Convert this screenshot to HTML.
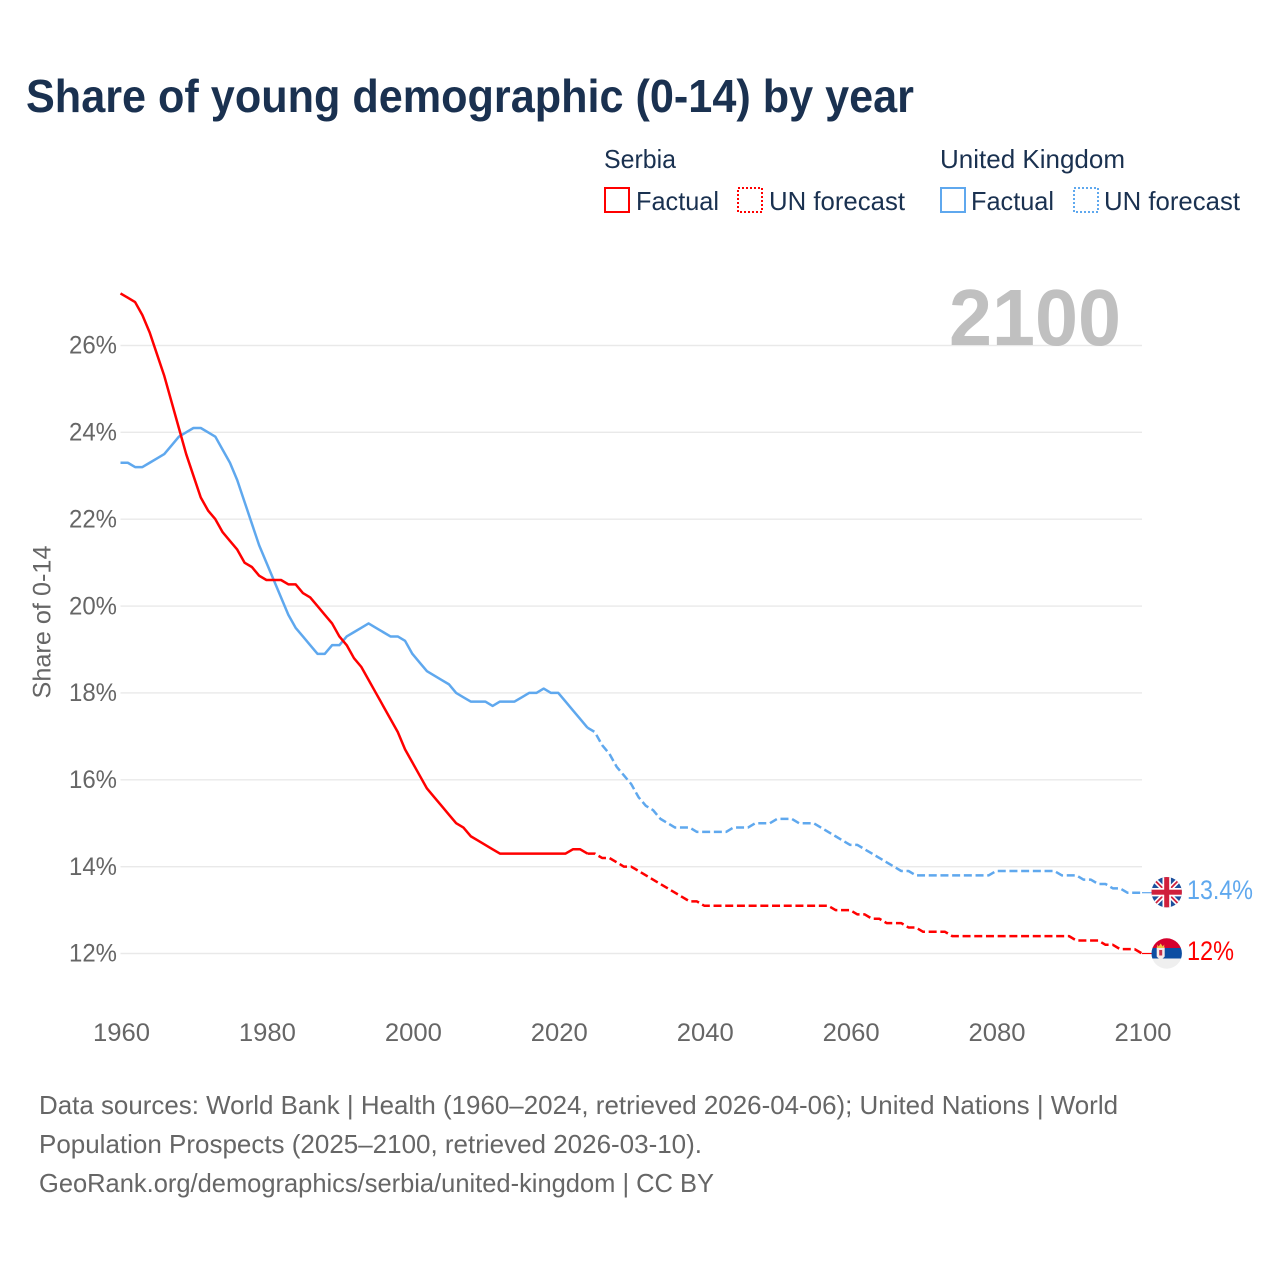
<!DOCTYPE html>
<html lang="en">
<head>
<meta charset="utf-8">
<title>Share of young demographic (0-14) by year</title>
<style>
  html, body { margin: 0; padding: 0; background: #fff; }
  svg { display: block; font-family: "Liberation Sans", "DejaVu Sans", sans-serif; }
</style>
</head>
<body>
<svg id="chart" xmlns="http://www.w3.org/2000/svg" width="1280" height="1280" viewBox="0 0 1280 1280">
  <rect x="0" y="0" width="1280" height="1280" fill="#ffffff"/>

  <text x="26" y="112" font-size="46" font-weight="700" fill="#1a3150" textLength="888" lengthAdjust="spacingAndGlyphs">Share of young demographic (0-14) by year</text>

  <g font-size="26" fill="#1a3150">
    <text x="604" y="168" textLength="72" lengthAdjust="spacingAndGlyphs">Serbia</text>
    <text x="940" y="168" textLength="185" lengthAdjust="spacingAndGlyphs">United Kingdom</text>
    <g>
      <rect x="605" y="188" width="24" height="24" fill="none" stroke="#ff0000" stroke-width="2"/>
      <text x="636" y="210" textLength="83" lengthAdjust="spacingAndGlyphs">Factual</text>
    </g>
    <g>
      <rect x="738" y="188" width="24" height="24" fill="none" stroke="#ff0000" stroke-width="2" stroke-dasharray="2 2"/>
      <text x="769" y="210" textLength="136" lengthAdjust="spacingAndGlyphs">UN forecast</text>
    </g>
    <g>
      <rect x="941" y="188" width="24" height="24" fill="none" stroke="#5fa8ee" stroke-width="2"/>
      <text x="971" y="210" textLength="83" lengthAdjust="spacingAndGlyphs">Factual</text>
    </g>
    <g>
      <rect x="1074" y="188" width="24" height="24" fill="none" stroke="#5fa8ee" stroke-width="2" stroke-dasharray="2 2"/>
      <text x="1104" y="210" textLength="136" lengthAdjust="spacingAndGlyphs">UN forecast</text>
    </g>
  </g>

  <g id="grid"></g>

  <text x="949" y="345" font-size="80" font-weight="700" fill="#c0c0c0" textLength="172" lengthAdjust="spacingAndGlyphs">2100</text>

  <text transform="translate(50.5 622) rotate(-90)" text-anchor="middle" font-size="25" fill="#666666" textLength="153" lengthAdjust="spacingAndGlyphs">Share of 0-14</text>

  <g id="yticks"></g>
  <g id="xticks"></g>
  <g id="series"></g>

  <defs>
    <clipPath id="flag-clip"><circle cx="0" cy="0" r="15.2"/></clipPath>
  </defs>

  <g id="flag-uk">
    <g clip-path="url(#flag-clip)">
      <rect x="-16" y="-16" width="32" height="32" fill="#1c4f9c"/>
      <path d="M-15 -15L15 15M15 -15L-15 15" stroke="#ffffff" stroke-width="5"/>
      <path d="M-15 -15L15 15M15 -15L-15 15" stroke="#d0203c" stroke-width="1.8"/>
      <rect x="-16" y="-4.2" width="32" height="8.4" fill="#ffffff"/>
      <rect x="-4.2" y="-16" width="8.4" height="32" fill="#ffffff"/>
      <rect x="-16" y="-2.5" width="32" height="5" fill="#d0203c"/>
      <rect x="-2.5" y="-16" width="5" height="32" fill="#d0203c"/>
    </g>
  </g>

  <g id="flag-serbia">
    <g clip-path="url(#flag-clip)">
      <rect x="-16" y="-16" width="32" height="32" fill="#efefef"/>
      <rect x="-16" y="-16" width="32" height="10.5" fill="#d6012e"/>
      <rect x="-16" y="-5.5" width="32" height="10.5" fill="#0c4da2"/>
      <path d="M-10 -6L-2 -6L-2 3Q-6 8 -10 3Z" fill="#f6eaea"/>
      <path d="M-9.5 -9L-8 -7L-6 -10L-4 -7L-2.5 -9L-2.5 -5.5L-9.5 -5.5Z" fill="#f3c644"/>
      <rect x="-7.5" y="-3.5" width="3" height="5.5" fill="#c9304a"/>
    </g>
  </g>

  <g id="end-labels"></g>

  <g font-size="26" fill="#666666">
    <text x="39" y="1114" textLength="1079" lengthAdjust="spacingAndGlyphs">Data sources: World Bank | Health (1960–2024, retrieved 2026-04-06); United Nations | World</text>
    <text x="39" y="1153" textLength="663" lengthAdjust="spacingAndGlyphs">Population Prospects (2025–2100, retrieved 2026-03-10).</text>
    <text x="39" y="1192" textLength="675" lengthAdjust="spacingAndGlyphs">GeoRank.org/demographics/serbia/united-kingdom | CC BY</text>
  </g>
</svg>

<script>
const factualStartYear = 1960;
const forecastStartYear = 2024;
const xTickYears = [1960, 1980, 2000, 2020, 2040, 2060, 2080, 2100];
const yTickValues = [12, 14, 16, 18, 20, 22, 24, 26];

const serbiaFactual = [
  27.2, 27.1, 27.0, 26.7, 26.3, 25.8, 25.3, 24.7, 24.1, 23.5,
  23.0, 22.5, 22.2, 22.0, 21.7, 21.5, 21.3, 21.0, 20.9, 20.7,
  20.6, 20.6, 20.6, 20.5, 20.5, 20.3, 20.2, 20.0, 19.8, 19.6,
  19.3, 19.1, 18.8, 18.6, 18.3, 18.0, 17.7, 17.4, 17.1, 16.7,
  16.4, 16.1, 15.8, 15.6, 15.4, 15.2, 15.0, 14.9, 14.7, 14.6,
  14.5, 14.4, 14.3, 14.3, 14.3, 14.3, 14.3, 14.3, 14.3, 14.3,
  14.3, 14.3, 14.4, 14.4, 14.3
];
const serbiaForecast = [
  14.3, 14.3, 14.2, 14.2, 14.1, 14.0,
  14.0, 13.9, 13.8, 13.7, 13.6, 13.5, 13.4, 13.3, 13.2, 13.2,
  13.1, 13.1, 13.1, 13.1, 13.1, 13.1, 13.1, 13.1, 13.1, 13.1,
  13.1, 13.1, 13.1, 13.1, 13.1, 13.1, 13.1, 13.1, 13.0, 13.0,
  13.0, 12.9, 12.9, 12.8, 12.8, 12.7, 12.7, 12.7, 12.6, 12.6,
  12.5, 12.5, 12.5, 12.5, 12.4, 12.4, 12.4, 12.4, 12.4, 12.4,
  12.4, 12.4, 12.4, 12.4, 12.4, 12.4, 12.4, 12.4, 12.4, 12.4,
  12.4, 12.3, 12.3, 12.3, 12.3, 12.2, 12.2, 12.1, 12.1, 12.1,
  12.0
];
const ukFactual = [
  23.3, 23.3, 23.2, 23.2, 23.3, 23.4, 23.5, 23.7, 23.9, 24.0,
  24.1, 24.1, 24.0, 23.9, 23.6, 23.3, 22.9, 22.4, 21.9, 21.4,
  21.0, 20.6, 20.2, 19.8, 19.5, 19.3, 19.1, 18.9, 18.9, 19.1,
  19.1, 19.3, 19.4, 19.5, 19.6, 19.5, 19.4, 19.3, 19.3, 19.2,
  18.9, 18.7, 18.5, 18.4, 18.3, 18.2, 18.0, 17.9, 17.8, 17.8,
  17.8, 17.7, 17.8, 17.8, 17.8, 17.9, 18.0, 18.0, 18.1, 18.0,
  18.0, 17.8, 17.6, 17.4, 17.2
];
const ukForecast = [
  17.2, 17.1, 16.8, 16.6, 16.3, 16.1,
  15.9, 15.6, 15.4, 15.3, 15.1, 15.0, 14.9, 14.9, 14.9, 14.8,
  14.8, 14.8, 14.8, 14.8, 14.9, 14.9, 14.9, 15.0, 15.0, 15.0,
  15.1, 15.1, 15.1, 15.0, 15.0, 15.0, 14.9, 14.8, 14.7, 14.6,
  14.5, 14.5, 14.4, 14.3, 14.2, 14.1, 14.0, 13.9, 13.9, 13.8,
  13.8, 13.8, 13.8, 13.8, 13.8, 13.8, 13.8, 13.8, 13.8, 13.8,
  13.9, 13.9, 13.9, 13.9, 13.9, 13.9, 13.9, 13.9, 13.9, 13.8,
  13.8, 13.8, 13.7, 13.7, 13.6, 13.6, 13.5, 13.5, 13.4, 13.4,
  13.4
];

const SVG_NS = 'http://www.w3.org/2000/svg';
const RED = '#ff0000';
const BLUE = '#5fa8ee';
const plotLeft = 120.5;
const plotRight = 1142;

function xScale(year) {
  return plotLeft + (year - 1960) * (plotRight - plotLeft) / 140;
}
function yScale(value) {
  return 953.5 - (value - 12) * (953.5 - 345.5) / 14;
}
function linePath(values, startYear) {
  return values.map(function (v, i) {
    return (i ? 'L' : 'M') + xScale(startYear + i).toFixed(2) + ' ' + yScale(v).toFixed(2);
  }).join('');
}
function make(tag, attrs, parent) {
  const el = document.createElementNS(SVG_NS, tag);
  Object.keys(attrs).forEach(function (k) { el.setAttribute(k, attrs[k]); });
  parent.appendChild(el);
  return el;
}

const gridGroup = document.getElementById('grid');
const yTickGroup = document.getElementById('yticks');
yTickValues.forEach(function (v) {
  const line = make('line', { x1: plotLeft, x2: plotRight, y1: yScale(v), y2: yScale(v), stroke: '#e9e9e9', 'stroke-width': 1.4 }, gridGroup);
  
  
  const label = make('text', { x: 117, y: yScale(v) + 8.2, 'text-anchor': 'end', 'font-size': 25, fill: '#666666', textLength: 48, lengthAdjust: 'spacingAndGlyphs' }, yTickGroup);
  
  
  label.textContent = v + '%';
});

const xTickGroup = document.getElementById('xticks');
xTickYears.forEach(function (year) {
  const label = make('text', { x: xScale(year) + 1, y: 1041, 'text-anchor': 'middle', 'font-size': 25, fill: '#666666', textLength: 57, lengthAdjust: 'spacingAndGlyphs' }, xTickGroup);
  
  
  label.textContent = year;
});

const seriesGroup = document.getElementById('series');
function drawSeries(key, color, factual, forecast) {
  const solid = make('path', { d: linePath(factual, factualStartYear), fill: 'none', stroke: color, 'stroke-width': 2.5, 'stroke-linejoin': 'round' }, seriesGroup);
  
  
  const dashed = make('path', { d: linePath(forecast, forecastStartYear), fill: 'none', stroke: color, 'stroke-width': 2.5, 'stroke-dasharray': '8 3.7', 'stroke-dashoffset': 0, 'stroke-linejoin': 'round' }, seriesGroup);
  
  
  const lastY = yScale(forecast[forecast.length - 1]);
  const connector = make('line', { x1: plotRight, x2: 1152, y1: lastY, y2: lastY, stroke: color, 'stroke-width': 1.2 }, seriesGroup);
  
  
  return lastY;
}
const ukLastY = drawSeries('united-kingdom', BLUE, ukFactual, ukForecast);
const serbiaLastY = drawSeries('serbia', RED, serbiaFactual, serbiaForecast);

document.getElementById('flag-uk').setAttribute('transform', 'translate(1166.7 ' + (ukLastY - 0.5) + ')');
document.getElementById('flag-serbia').setAttribute('transform', 'translate(1166.7 ' + serbiaLastY + ')');

const endLabelGroup = document.getElementById('end-labels');
const ukEnd = make('text', { x: 1187, y: ukLastY + 6.5, 'font-size': 26.5, fill: BLUE, textLength: 66, lengthAdjust: 'spacingAndGlyphs' }, endLabelGroup);


ukEnd.textContent = ukForecast[ukForecast.length - 1] + '%';
const serbiaEnd = make('text', { x: 1187, y: serbiaLastY + 6.5, 'font-size': 26.5, fill: RED, textLength: 47, lengthAdjust: 'spacingAndGlyphs' }, endLabelGroup);


serbiaEnd.textContent = serbiaForecast[serbiaForecast.length - 1] + '%';
</script>
</body>
</html>
